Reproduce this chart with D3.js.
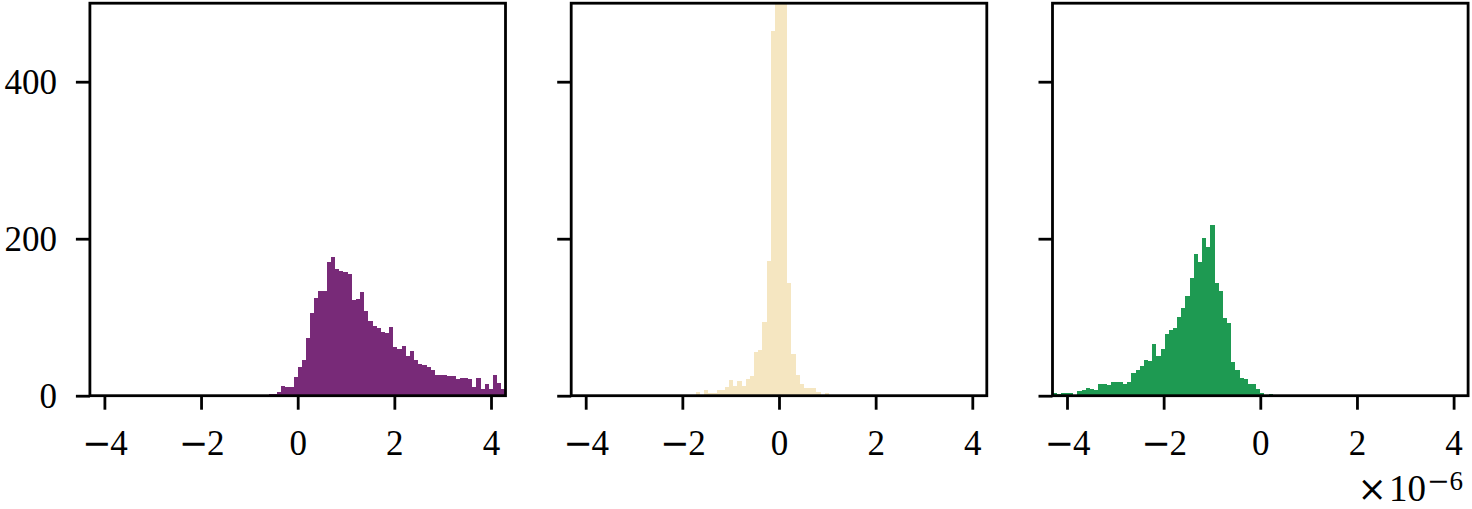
<!DOCTYPE html>
<html>
<head>
<meta charset="utf-8">
<script src="https://cdn.jsdelivr.net/npm/d3@7"></script>
<style>
  html, body { margin: 0; padding: 0; background: #ffffff; }
  svg { display: block; }
  text { font-family: "Liberation Serif", "DejaVu Serif", serif; fill: #000; }
  .sym { font-family: "DejaVu Serif", serif; }
</style>
</head>
<body>
<svg id="chart" width="1472" height="509"></svg>
<script>
// ---- data (values in units of 1e-6, counts per bin) ----
const binStart = -4.3;
const binWidth = 0.086;
const binCount = 100;

const xTicks = [-4, -2, 0, 2, 4];
const yTicks = [0, 200, 400];
const xDomain = [-4.3, 4.3];
const yDomain = [0, 500];
const offsetTimes = "×";
const offsetBase = "10";
const offsetExpSign = "−";
const offsetExpDigit = "6";

const colors = ["#782a78", "#f5e6c1", "#1e9a52"];

// panel 1 counts, bins 0..99
const countsA = [
  0,0,0,0,0,0,0,0,0,0,
  0,0,0,0,0,0,0,0,0,0,
  0,0,0,0,0,0,0,0,0,0,
  0,0,0,0,0,0,0,0,0,0,
  0,0,1,2,2,5,12,11,11,24,
  37,45,74,105,125,134,134,170,177,161,
  159,158,155,122,123,132,108,95,89,86,
  81,80,88,62,60,63,51,57,46,41,
  39,37,33,27,27,27,25,25,21,23,
  22,21,11,23,9,15,9,27,16,9
];
// panel 2 counts
const countsB = [
  0,0,0,0,0,0,0,0,0,0,
  0,0,0,0,0,0,0,0,0,0,
  0,0,0,0,0,0,0,0,0,0,
  5,1,7,3,3,7,7,11,20,12,
  19,12,21,25,56,58,94,171,465,760,
  1020,820,144,53,26,15,10,10,10,5,
  1,3,1,0,0,0,0,0,0,0,
  0,0,0,0,0,0,0,0,0,0,
  0,0,0,0,0,0,0,0,0,0,
  0,0,0,0,0,0,0,0,0,0
];
// panel 3 counts
const countsC = [
  3,2,4,4,4,1,6,7,10,8,
  7,15,15,13,17,17,17,15,18,29,
  33,38,46,44,66,50,59,79,84,86,
  100,112,127,150,181,170,201,190,217,144,
  133,99,93,43,33,22,21,15,15,9,
  4,1,2,0,0,0,0,0,0,0,
  0,0,0,0,0,0,0,0,0,0,
  0,0,0,0,0,0,0,0,0,0,
  0,0,0,0,0,0,0,0,0,0,
  0,0,0,0,0,0,0,0,0,0
];
const series = [countsA, countsB, countsC];

// ---- layout ----
const panelLefts = [89.9, 571.2, 1052.5];
const panelWidth = 415.6;
const plotTop = 3.2, plotBottom = 395.7;
const fontSize = 35;
const tickLen = 14;
const lineW = 2.8;

const svg = d3.select("#chart");
const y = d3.scaleLinear().domain(yDomain).range([plotBottom, plotTop]);
const fmt = d3.format("d");

const defs = svg.append("defs");

// split leading minus into a wider glyph (like the TeX minus)
function styleLabel(sel) {
  sel.each(function () {
    const t = d3.select(this);
    const s = t.text();
    if (s.startsWith("−")) {
      t.text(null);
      t.append("tspan").attr("class", "sym").text("−");
      t.append("tspan").attr("dx", -1).text(s.slice(1));
    }
  });
}

series.forEach((counts, p) => {
  const left = panelLefts[p];
  const x = d3.scaleLinear().domain(xDomain).range([left, left + panelWidth]);
  const g = svg.append("g");

  defs.append("clipPath").attr("id", "clip" + p)
    .append("rect")
    .attr("x", left).attr("y", plotTop)
    .attr("width", panelWidth).attr("height", plotBottom - plotTop);

  const bins = counts.map((c, k) => ({
    x0: binStart + k * binWidth,
    x1: binStart + (k + 1) * binWidth,
    c: c
  })).filter(d => d.c > 0);

  g.append("g").attr("clip-path", `url(#clip${p})`)
    .selectAll("rect").data(bins).join("rect")
    .attr("x", d => x(d.x0))
    .attr("width", d => x(d.x1) - x(d.x0))
    .attr("y", d => y(d.c))
    .attr("height", d => y(0) - y(d.c))
    .attr("fill", colors[p])
    .attr("shape-rendering", "crispEdges");

  // x axis
  const xa = g.append("g")
    .attr("transform", `translate(0,${plotBottom})`)
    .call(d3.axisBottom(x).tickValues(xTicks).tickSize(tickLen).tickFormat(fmt));
  xa.select(".domain").remove();
  xa.selectAll(".tick line").attr("stroke", "#000").attr("stroke-width", lineW);
  xa.selectAll(".tick text")
    .attr("y", 59.5).attr("dy", 0)
    .style("font-size", fontSize + "px")
    .call(styleLabel);

  // y axis
  const ya = g.append("g")
    .attr("transform", `translate(${left},0)`)
    .call(d3.axisLeft(y).tickValues(yTicks).tickSize(tickLen).tickFormat(fmt));
  ya.select(".domain").remove();
  ya.selectAll(".tick line").attr("stroke", "#000").attr("stroke-width", lineW);
  if (p === 0) {
    ya.selectAll(".tick text")
      .attr("x", -33).attr("dy", 0).attr("y", 12)
      .style("font-size", fontSize + "px");
  } else {
    ya.selectAll(".tick text").remove();
  }

  // frame
  g.append("rect")
    .attr("x", left).attr("y", plotTop)
    .attr("width", panelWidth).attr("height", plotBottom - plotTop)
    .attr("fill", "none").attr("stroke", "#000").attr("stroke-width", lineW);
});

// offset text
const off = svg.append("text")
  .attr("x", 1463).attr("y", 501)
  .attr("text-anchor", "end")
  .style("font-size", fontSize + "px");
off.append("tspan").attr("class", "sym").style("font-size", "35px").text(offsetTimes);
off.append("tspan").attr("dx", 2).style("font-size", "37px").text(offsetBase);
off.append("tspan").attr("class", "sym").attr("dy", -11).attr("dx", 1).style("font-size", "27px").text(offsetExpSign);
off.append("tspan").attr("dx", 0).style("font-size", "27px").text(offsetExpDigit);
</script>
</body>
</html>
